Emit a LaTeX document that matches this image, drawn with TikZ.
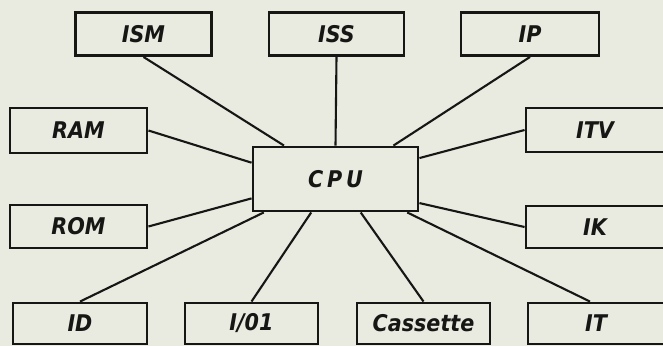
\documentclass[tikz,border=0pt]{standalone}
\usepackage{fontspec}
\usepackage{tikz}
\newfontfamily\boxfont{DejaVu Sans Condensed Bold Oblique}
\definecolor{SchPaper}{RGB}{233,235,224}
\definecolor{SchInk}{RGB}{22,22,20}

\begin{document}
\begin{tikzpicture}[x=1pt,y=-1pt,
  unit/.style={draw=SchInk,line width=2.9pt,inner sep=0pt,minimum height=43pt,
    text=SchInk,font=\boxfont\fontsize{23}{23}\selectfont},
  bus/.style={draw=SchInk,line width=2.1pt}]
\clip (0,0) rectangle (663,346);
\fill[SchPaper] (0,0) rectangle (663,346);
\node[unit,minimum width=136pt] (ISM) at (143.5,34) {ISM};
\node[unit,minimum width=135pt] (ISS) at (336.5,34) {ISS};
\node[unit,minimum width=138pt] (IP) at (530,34) {IP};
\node[unit,minimum width=137pt,minimum height=45pt] (RAM) at (78.5,130.5) {RAM};
\node[unit,minimum width=137pt] (ROM) at (78.5,226.5) {ROM};
\node[unit,minimum width=138pt,minimum height=44pt] (ITV) at (595,130) {ITV};
\node[unit,minimum width=138pt,minimum height=42pt] (IK) at (595,227) {IK};
\node[unit,minimum width=165pt,minimum height=64pt] (CPU) at (335.5,179) {C\,P\,U};
\node[unit,minimum width=134pt,minimum height=41pt] (ID) at (80,323.5) {ID};
\node[unit,minimum width=133pt,minimum height=41pt] (IO) at (251.5,323.5) {I/01};
\node[unit,minimum width=133pt,minimum height=41pt] (Cas) at (423.5,323.5) {Cassette};
\node[unit,minimum width=136pt,minimum height=41pt] (IT) at (596,323.5) {IT};
\draw[bus] (ISM.south) -- (CPU.147.6);
\draw[bus] (ISS.south) -- (CPU.90);
\draw[bus] (IP.south) -- (CPU.30.4);
\draw[bus] (RAM.east) -- (CPU.169);
\draw[bus] (ROM.east) -- (CPU.193.6);
\draw[bus] (ITV.west) -- (CPU.14.3);
\draw[bus] (IK.west) -- (CPU.344.4);
\draw[bus] (ID.north) -- (CPU.205);
\draw[bus] (IO.north) -- (CPU.234.9);
\draw[bus] (Cas.north) -- (CPU.307.4);
\draw[bus] ([xshift=-6pt]IT.north) -- (CPU.335);
\end{tikzpicture}
\end{document}
